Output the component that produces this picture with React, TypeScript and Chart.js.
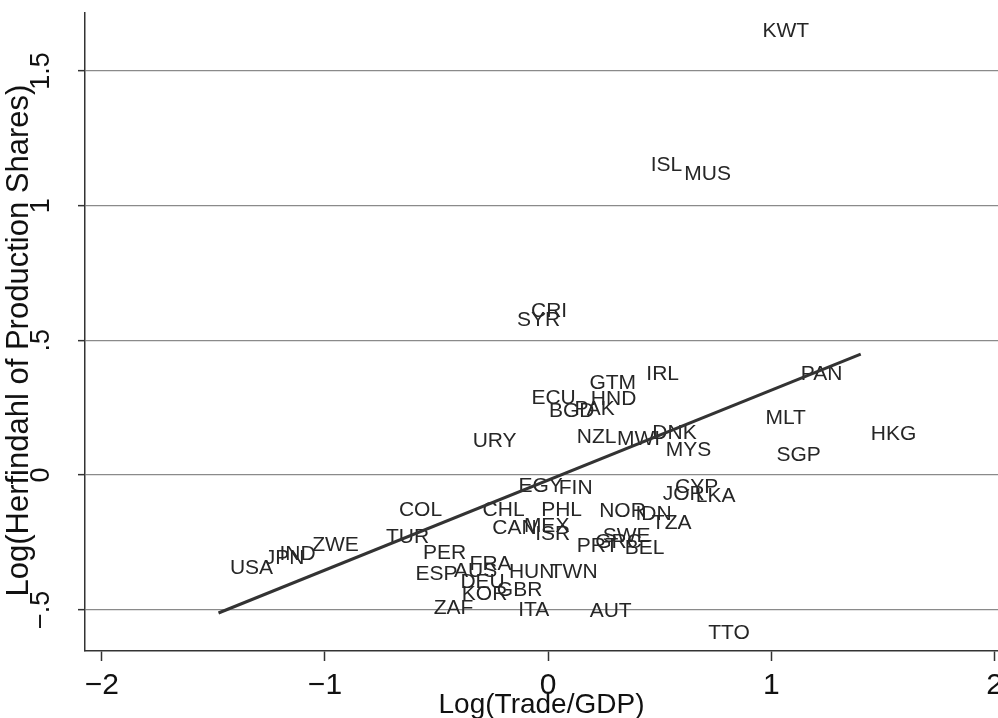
import { useEffect, useRef } from 'react';
import { Chart, registerables } from 'chart.js';

Chart.register(...registerables);

const countries = [
  'KWT', 'ISL', 'MUS', 'CRI', 'SYR', 'IRL', 'PAN', 'GTM', 'ECU', 'HND',
  'BGD', 'PAK', 'MLT', 'DNK', 'HKG', 'NZL', 'MWI', 'URY', 'MYS', 'SGP',
  'EGY', 'CYP', 'FIN', 'JOR', 'LKA', 'CHL', 'PHL', 'COL', 'NOR', 'IDN',
  'TZA', 'MEX', 'CAN', 'ISR', 'SWE', 'TUR', 'ZWE', 'GRC', 'PRT', 'BEL',
  'PER', 'IND', 'JPN', 'FRA', 'USA', 'AUS', 'HUN', 'TWN', 'ESP', 'DEU',
  'GBR', 'KOR', 'ZAF', 'ITA', 'AUT', 'TTO',
];

const logTradeGdp = [
  1.064, 0.530, 0.714, 0.004, -0.043, 0.513, 1.225, 0.289, 0.024, 0.293,
  0.105, 0.208, 1.064, 0.566, 1.547, 0.217, 0.405, -0.240, 0.629, 1.122,
  -0.034, 0.665, 0.123, 0.607, 0.750, -0.200, 0.060, -0.572, 0.333, 0.472,
  0.553, -0.007, -0.151, 0.020, 0.351, -0.630, -0.953, 0.315, 0.221, 0.432,
  -0.464, -1.123, -1.181, -0.258, -1.329, -0.325, -0.074, 0.114, -0.500, -0.294,
  -0.128, -0.285, -0.424, -0.065, 0.280, 0.810,
];

const logHerfindahl = [
  1.649, 1.150, 1.118, 0.608, 0.575, 0.375, 0.375, 0.341, 0.287, 0.282,
  0.237, 0.245, 0.211, 0.156, 0.152, 0.141, 0.132, 0.124, 0.091, 0.075,
  -0.041, -0.046, -0.050, -0.070, -0.078, -0.130, -0.130, -0.132, -0.134, -0.145,
  -0.180, -0.189, -0.198, -0.219, -0.226, -0.230, -0.259, -0.249, -0.265, -0.271,
  -0.289, -0.293, -0.308, -0.329, -0.345, -0.356, -0.360, -0.360, -0.367, -0.399,
  -0.428, -0.441, -0.493, -0.503, -0.504, -0.586,
];

const fitX = [-1.477, 1.4];
const fitY = [-0.512, 0.449];

const xTicks = [-2, -1, 0, 1, 2];
const xTickLabels = ['\u22122', '\u22121', '0', '1', '2'];
const yTicks = [-0.5, 0, 0.5, 1, 1.5];
const yTickLabels = ['\u2212.5', '0', '.5', '1', '1.5'];

const SANS = '"Liberation Sans", Arial, sans-serif';

const labelPlugin = {
  id: 'countryLabels',
  beforeDatasetsDraw(chart: any) {
    const meta = chart.getDatasetMeta(0);
    const ctx = chart.ctx;
    ctx.save();
    ctx.font = '21px ' + SANS;
    ctx.fillStyle = '#262626';
    ctx.textAlign = 'center';
    ctx.textBaseline = 'middle';
    meta.data.forEach((el: any, i: number) => {
      ctx.fillText(countries[i], el.x, el.y);
    });
    ctx.restore();
  },
};

export default function App() {
  const ref = useRef<HTMLCanvasElement | null>(null);

  useEffect(() => {
    if (!ref.current) return;
    const chart = new Chart(ref.current, {
      type: 'scatter',
      data: {
        datasets: [
          {
            label: 'Countries',
            data: countries.map((_, i) => ({ x: logTradeGdp[i], y: logHerfindahl[i] })),
            pointRadius: 0,
            pointHoverRadius: 0,
          },
          {
            label: 'Fit',
            data: fitX.map((x, i) => ({ x, y: fitY[i] })),
            showLine: true,
            borderColor: '#333333',
            borderWidth: 3,
            pointRadius: 0,
            fill: false,
          },
        ],
      },
      options: {
        animation: false,
        responsive: false,
        devicePixelRatio: 1,
        layout: { padding: { top: 13, right: 0, left: 0, bottom: 0 } },
        plugins: { legend: { display: false }, tooltip: { enabled: false } },
        scales: {
          x: {
            type: 'linear',
            position: 'bottom',
            min: -2.075,
            max: 2.015,
            afterBuildTicks: (s: any) => {
              s.ticks = xTicks.map((v) => ({ value: v }));
            },
            afterFit: (s: any) => {
              s.height = 67;
              s.paddingLeft = 0;
              s.paddingRight = 0;
            },
            grid: {
              drawOnChartArea: false,
              drawTicks: true,
              tickLength: 10,
              tickColor: '#333333',
              tickWidth: 1.5,
            },
            border: { color: '#333333', width: 1.5 },
            ticks: {
              autoSkip: false,
              maxRotation: 0,
              padding: 7,
              color: '#111111',
              font: { family: SANS, size: 30 },
              callback: (_v: any, i: number) => xTickLabels[i],
            },
            title: {
              display: true,
              text: 'Log(Trade/GDP)',
              color: '#111111',
              font: { family: SANS, size: 28, lineHeight: 1 },
              padding: { top: 0, bottom: -1 },
            },
          },
          y: {
            type: 'linear',
            position: 'left',
            min: -0.653,
            max: 1.715,
            afterBuildTicks: (s: any) => {
              s.ticks = yTicks.map((v) => ({ value: v }));
            },
            afterFit: (s: any) => {
              s.width = 85;
              s.paddingTop = 0;
              s.paddingBottom = 0;
            },
            grid: {
              drawOnChartArea: true,
              drawTicks: true,
              tickLength: 7,
              color: '#8a8a8a',
              lineWidth: 1.3,
              tickColor: '#333333',
              tickWidth: 1.5,
            },
            border: { color: '#333333', width: 1.5 },
            ticks: {
              autoSkip: false,
              minRotation: 90,
              maxRotation: 90,
              crossAlign: 'center',
              padding: 17,
              color: '#111111',
              font: { family: SANS, size: 27 },
              callback: (_v: any, i: number) => yTickLabels[i],
            },
            title: {
              display: true,
              text: 'Log(Herfindahl of Production Shares)  ',
              color: '#111111',
              font: { family: SANS, size: 31, lineHeight: 1.2 },
              padding: { top: 1, bottom: 0 },
            },
          },
        },
      },
      plugins: [labelPlugin],
    } as any);
    return () => chart.destroy();
  }, []);

  return (
    <div style={{ position: 'fixed', left: 0, top: 0, width: 998, height: 718, background: '#fff' }}>
      <canvas ref={ref} width={998} height={718} style={{ display: 'block' }} />
    </div>
  );
}
